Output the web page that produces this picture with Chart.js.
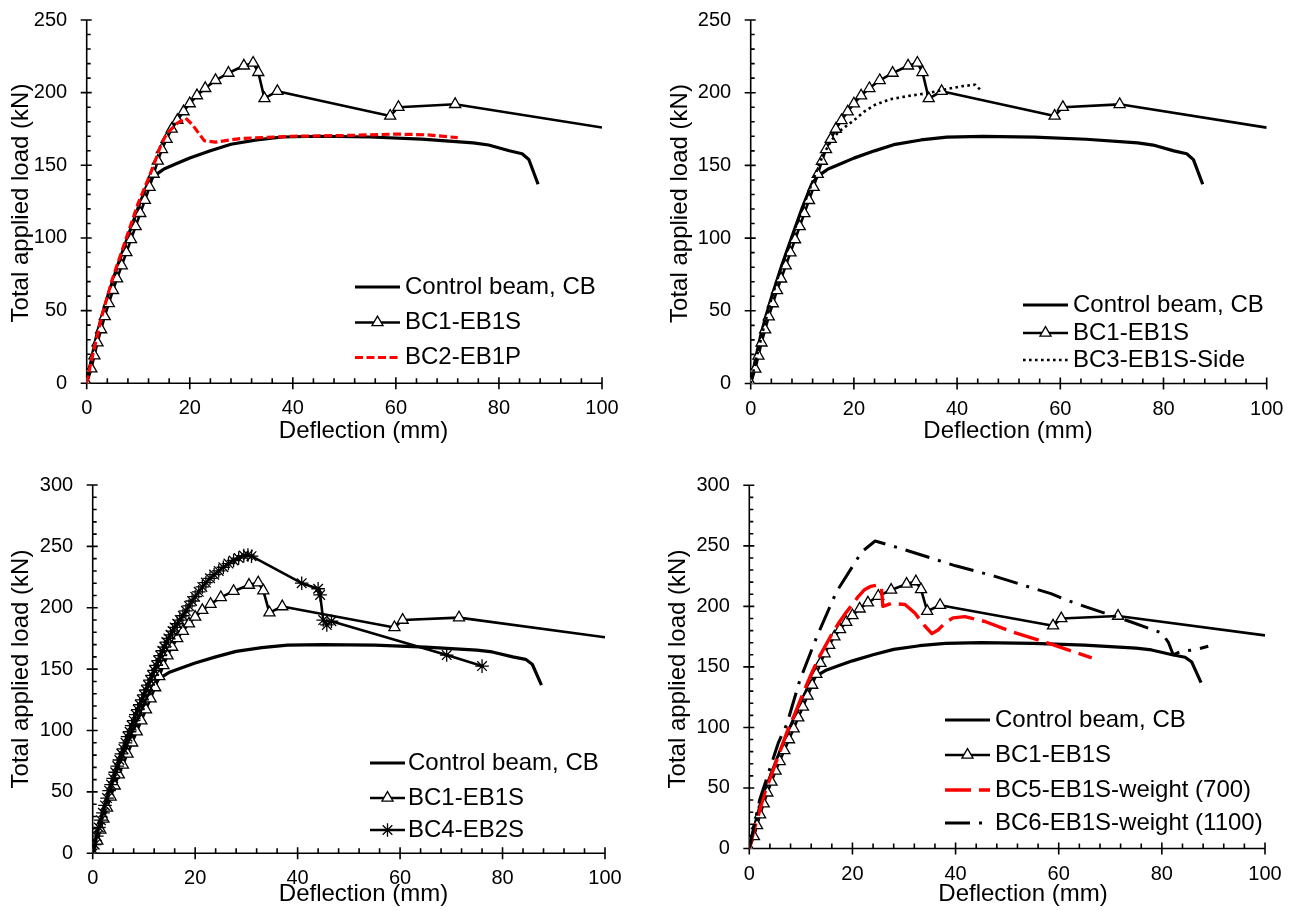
<!DOCTYPE html>
<html>
<head>
<meta charset="utf-8">
<title>Load-deflection curves</title>
<script src="https://cdn.jsdelivr.net/npm/chart.js"></script>
<style>
  html, body { margin: 0; padding: 0; background: #fff; }
  #page { position: relative; width: 1293px; height: 911px; overflow: hidden; background: #fff; }
  #page canvas { position: absolute; }
</style>
</head>
<body>
<div id="page">
  <canvas id="p1" width="646" height="455" style="left:0px;top:0px"></canvas>
  <canvas id="p2" width="647" height="455" style="left:646px;top:0px"></canvas>
  <canvas id="p3" width="646" height="456" style="left:0px;top:455px"></canvas>
  <canvas id="p4" width="647" height="456" style="left:646px;top:455px"></canvas>
</div>
<script>
// tick labels
const deflectionTicks = [0, 20, 40, 60, 80, 100];
const loadTicksTop = [0, 50, 100, 150, 200, 250];
const loadTicksBottom = [0, 50, 100, 150, 200, 250, 300];

// deflection (mm), load (kN) pairs
const controlBeam = [
  [0, 0], [1, 18], [2, 34], [3, 47], [4, 59], [5, 70], [6, 81], [8, 101],
  [10, 121], [11.8, 137], [13, 142.5], [14, 145], [15, 147.5], [17, 150.5],
  [20, 155], [24, 160], [28, 164.5], [33, 167.5], [38, 169.5], [45, 170],
  [55, 169.5], [65, 168], [75, 165.5], [78, 164], [82, 160], [84.5, 158],
  [85.8, 154], [87.6, 137],
];

const bc1EB1S = [
  [0, 0], [0.9, 10], [1.5, 19], [2.1, 28], [2.8, 37], [3.5, 46], [4.3, 55],
  [5.1, 64], [5.9, 72], [6.8, 81], [7.7, 90], [8.6, 99], [9.5, 108],
  [10.4, 117], [11.3, 126], [12.2, 135], [13.0, 144], [13.8, 153],
  [14.6, 161], [15.5, 168], [16.5, 175], [17.6, 181], [18.8, 187],
  [20, 192.5], [21.4, 198], [23, 203], [25, 208.5], [27.5, 213.5],
  [30.5, 218.5], [32.3, 220.5], [33.3, 214], [34.5, 196], [37, 201],
  [58.9, 184], [60.5, 190], [71.5, 192], [100, 176],
];

const bc2EB1P = [
  [0, 0], [0.8, 14], [2, 32], [3, 47], [5, 72], [7.5, 98], [10, 124],
  [12, 141], [13.5, 155], [14.5, 165], [15.7, 172.5], [17.6, 179],
  [19.2, 182.5], [20.5, 178], [22.8, 167], [25, 166], [30, 168.5],
  [40, 170], [50, 170.5], [60, 171.5], [66, 171], [72, 169],
];

const bc3EB1SSide = [
  [0, 0], [1, 16], [2.5, 38], [4, 58], [6, 81], [8, 101], [10, 120],
  [12, 139], [14, 157], [15.6, 167], [17, 173], [18.5, 177], [20, 181],
  [22, 187], [24, 191.5], [27, 195.5], [31, 198], [34, 199.5], [38, 202.5],
  [41, 204.5], [43.5, 205.5], [44.8, 201],
];

const bc4EB2S = [
  [0, 0], [0.4, 7], [0.8, 14], [1.2, 21], [1.6, 27], [2, 33], [2.4, 39],
  [2.8, 45], [3.2, 51], [3.6, 56], [4, 61], [4.4, 66], [4.8, 71], [5.2, 76],
  [5.6, 81], [6, 85], [6.4, 90], [6.8, 95], [7.2, 99], [7.6, 104], [8, 108],
  [8.4, 113], [8.8, 117], [9.2, 121], [9.6, 125], [10, 129], [10.4, 133],
  [10.8, 137], [11.2, 141], [11.6, 145], [12, 149], [12.4, 153], [12.8, 157],
  [13.2, 161], [13.6, 165], [14, 168], [14.4, 172], [14.8, 175], [15.2, 178],
  [15.6, 181], [16, 184], [16.5, 187], [17, 190], [17.6, 193.5],
  [18.2, 197.5], [18.8, 201.5], [19.4, 205.5], [20, 209], [20.7, 213],
  [21.4, 217], [22.1, 220.5], [22.9, 224], [23.7, 227], [24.6, 230],
  [25.5, 233], [26.5, 236], [27.5, 238.5], [28.5, 240.5], [29.5, 242.5],
  [30.3, 243], [31, 242], [40.8, 220], [44, 215.5], [44.4, 210.5],
  [45, 190], [45.7, 186], [46.6, 189], [69.1, 161.5], [76, 152.5],
];

const bc5Weight700 = [
  [0, 0], [1.1, 18], [3, 46], [5.6, 76], [7.2, 95], [8.9, 112], [10.5, 129],
  [12.1, 145], [13.4, 157], [14.7, 167], [16, 177], [17.3, 186], [18.6, 194],
  [19.9, 201], [21.2, 208.5], [22.4, 214], [23.5, 216.5], [24.7, 217.5],
  [25.6, 216.5], [25.9, 200], [27.6, 202.5], [30.2, 201.5], [32.1, 194.5],
  [34, 184], [35.4, 177.5], [36.6, 180.5], [38, 186.5], [39.5, 190.5],
  [41.8, 191.5], [45.7, 187.5], [50.9, 179], [57.7, 170], [66.4, 157.5],
];

const bc6Weight1100 = [
  [0, 0], [2, 40], [5.6, 87], [7.3, 103], [9.8, 139], [13.1, 175],
  [16.9, 212], [21.8, 245], [24.4, 254], [30, 247], [40, 233.5],
  [47.5, 225], [55, 215], [58.5, 210.5], [61, 206], [65, 200],
  [73.8, 187.5], [80, 178], [81.3, 170], [82.2, 160], [83.5, 162.5],
  [86.8, 164.5], [89, 167],
];

const seriesLabels = {
  cb: 'Control beam, CB',
  bc1: 'BC1-EB1S',
  bc2: 'BC2-EB1P',
  bc3: 'BC3-EB1S-Side',
  bc4: 'BC4-EB2S',
  bc5: 'BC5-EB1S-weight (700)',
  bc6: 'BC6-EB1S-weight (1100)',
};

const seriesPoints = {
  cb: controlBeam,
  bc1: bc1EB1S,
  bc2: bc2EB1P,
  bc3: bc3EB1SSide,
  bc4: bc4EB2S,
  bc5: bc5Weight700,
  bc6: bc6Weight1100,
};

const seriesStyle = {
  cb: { color: '#000', width: 3.2, dash: [] },
  bc1: { color: '#000', width: 2.6, dash: [], marker: 'triangle', size: 6.4, lastBare: true },
  bc2: { color: '#ff0000', width: 3.2, dash: [8, 3.5] },
  bc3: { color: '#000', width: 2.6, dash: [2.6, 3.4] },
  bc4: { color: '#000', width: 2.6, dash: [], marker: 'star', size: 6.8 },
  bc5: { color: '#ff0000', width: 3.4, dash: [26, 8] },
  bc6: { color: '#000', width: 3, dash: [25, 9, 3, 9] },
};

// page layout of the four panels (page pixels)
const panels = [
  {
    id: 'p1', left: 0, top: 0, width: 646, height: 455,
    area: { l: 86.7, t: 20, r: 602, b: 383.3 },
    loadTicks: loadTicksTop, series: ['cb', 'bc1', 'bc2'],
    legend: { x1: 355, x2: 400, tx: 405, rows: [287, 322.5, 357.5] },
    xTitle: { cx: 363.5, base: 438 }, yTitle: { base: 28, cy: 203 },
  },
  {
    id: 'p2', left: 646, top: 0, width: 647, height: 455,
    area: { l: 750.7, t: 20, r: 1266.7, b: 383.5 },
    loadTicks: loadTicksTop, series: ['cb', 'bc1', 'bc3'],
    legend: { x1: 1023, x2: 1068, tx: 1073, rows: [305, 333, 360] },
    xTitle: { cx: 1008, base: 438 }, yTitle: { base: 687, cy: 203.5 },
  },
  {
    id: 'p3', left: 0, top: 455, width: 646, height: 456,
    area: { l: 92.7, t: 485, r: 605, b: 853.3 },
    loadTicks: loadTicksBottom, series: ['cb', 'bc1', 'bc4'],
    legend: { x1: 370, x2: 405, tx: 408, rows: [763, 798, 830] },
    xTitle: { cx: 363.5, base: 901 }, yTitle: { base: 28, cy: 669 },
  },
  {
    id: 'p4', left: 646, top: 455, width: 647, height: 456,
    area: { l: 749.3, t: 485.3, r: 1265, b: 848.5 },
    loadTicks: loadTicksBottom, series: ['cb', 'bc1', 'bc5', 'bc6'],
    legend: { x1: 945, x2: 990, tx: 995, rows: [720, 755, 790, 823] },
    xTitle: { cx: 1023, base: 901 }, yTitle: { base: 685, cy: 669 },
  },
];

const FONT = '"Liberation Sans", Arial, sans-serif';
Chart.defaults.font.family = FONT;
Chart.defaults.color = '#000';

// axis lines with Excel-like tick marks (minor inside, major crossing)
const axisFrame = {
  id: 'axisFrame',
  beforeDatasetsDraw(chart) {
    const { ctx, chartArea: a, scales: { x, y } } = chart;
    ctx.save();
    ctx.strokeStyle = '#000';
    ctx.lineWidth = 1.6;
    ctx.beginPath();
    ctx.moveTo(a.left, a.top);
    ctx.lineTo(a.left, a.bottom);
    ctx.lineTo(a.right, a.bottom);
    const xMinor = (x.max - x.min) / 25;
    for (let i = 0; i <= 25; i++) {
      const px = x.getPixelForValue(x.min + i * xMinor);
      const major = i % 5 === 0;
      ctx.moveTo(px, a.bottom + (major ? 6 : 0));
      ctx.lineTo(px, a.bottom - (major ? 6 : 5));
    }
    const yCount = Math.round((y.max - y.min) / 10);
    for (let i = 0; i <= yCount; i++) {
      const py = y.getPixelForValue(y.min + i * 10);
      const major = i % 5 === 0;
      ctx.moveTo(a.left - (major ? 6 : 0), py);
      ctx.lineTo(a.left + (major ? 5 : 4), py);
    }
    ctx.stroke();
    ctx.restore();
  },
};

// axis titles and the in-plot legend
const panelText = {
  id: 'panelText',
  afterDraw(chart, args, opts) {
    const p = opts.panel;
    const { ctx } = chart;
    ctx.save();
    ctx.fillStyle = '#000';
    ctx.font = '24px ' + FONT;
    ctx.textAlign = 'center';
    ctx.textBaseline = 'alphabetic';
    ctx.fillText('Deflection (mm)', p.xTitle.cx - p.left, p.xTitle.base - p.top);
    ctx.save();
    ctx.translate(p.yTitle.base - p.left, p.yTitle.cy - p.top);
    ctx.rotate(-Math.PI / 2);
    ctx.fillText('Total applied load (kN)', 0, 0);
    ctx.restore();

    const lg = p.legend;
    ctx.textAlign = 'left';
    ctx.textBaseline = 'middle';
    p.series.forEach((key, i) => {
      const st = seriesStyle[key];
      const y = lg.rows[i] - p.top;
      const x1 = lg.x1 - p.left;
      const x2 = lg.x2 - p.left;
      ctx.beginPath();
      ctx.setLineDash(st.dash);
      ctx.lineWidth = st.width;
      ctx.strokeStyle = st.color;
      ctx.lineCap = 'butt';
      ctx.moveTo(x1, y);
      ctx.lineTo(x2, y);
      ctx.stroke();
      ctx.setLineDash([]);
      if (st.marker) {
        ctx.lineWidth = 1.3;
        ctx.strokeStyle = '#000';
        ctx.fillStyle = '#fff';
        Chart.helpers.drawPoint(ctx, {
          pointStyle: st.marker, radius: st.size, rotation: 0, borderWidth: 1.3,
        }, (x1 + x2) / 2, y);
      }
      ctx.fillStyle = '#000';
      ctx.fillText(seriesLabels[key], lg.tx - p.left, y);
    });
    ctx.restore();
  },
};

function makeDataset(key, i) {
  const st = seriesStyle[key];
  return {
    label: seriesLabels[key],
    data: seriesPoints[key].map(([x, y]) => ({ x, y })),
    showLine: true,
    borderColor: st.color,
    borderWidth: st.width,
    borderDash: st.dash,
    borderCapStyle: 'butt',
    borderJoinStyle: 'round',
    tension: 0,
    pointStyle: st.marker || 'circle',
    pointRadius: st.marker
      ? (c) => (st.lastBare && c.dataIndex === c.dataset.data.length - 1 ? 0 : st.size)
      : 0,
    pointBackgroundColor: '#fff',
    pointBorderColor: '#000',
    pointBorderWidth: 1.3,
    order: -i,
  };
}

panels.forEach((p) => {
  const yWidth = p.area.l - p.left;
  const xHeight = p.top + p.height - p.area.b;
  new Chart(document.getElementById(p.id), {
    type: 'scatter',
    data: { datasets: p.series.map(makeDataset) },
    options: {
      responsive: false,
      animation: false,
      events: [],
      layout: {
        padding: { left: 0, top: p.area.t - p.top, right: p.left + p.width - p.area.r, bottom: 0 },
      },
      plugins: {
        legend: { display: false },
        tooltip: { enabled: false },
        panelText: { panel: p },
      },
      scales: {
        x: {
          type: 'linear',
          min: deflectionTicks[0],
          max: deflectionTicks[deflectionTicks.length - 1],
          grid: { display: false, drawTicks: false },
          border: { display: false },
          ticks: { stepSize: deflectionTicks[1] - deflectionTicks[0], padding: 13.5, font: { size: 20 }, color: '#000', maxRotation: 0 },
          afterFit(scale) {
            scale.height = xHeight;
            scale.paddingLeft = 0;
            scale.paddingRight = 0;
          },
        },
        y: {
          type: 'linear',
          min: p.loadTicks[0],
          max: p.loadTicks[p.loadTicks.length - 1],
          grid: { display: false, drawTicks: false },
          border: { display: false },
          ticks: { stepSize: p.loadTicks[1] - p.loadTicks[0], padding: 19.5, font: { size: 20 }, color: '#000' },
          afterFit(scale) {
            scale.width = yWidth;
            scale.paddingTop = 0;
            scale.paddingBottom = 0;
          },
        },
      },
    },
    plugins: [axisFrame, panelText],
  });
});
</script>
</body>
</html>
